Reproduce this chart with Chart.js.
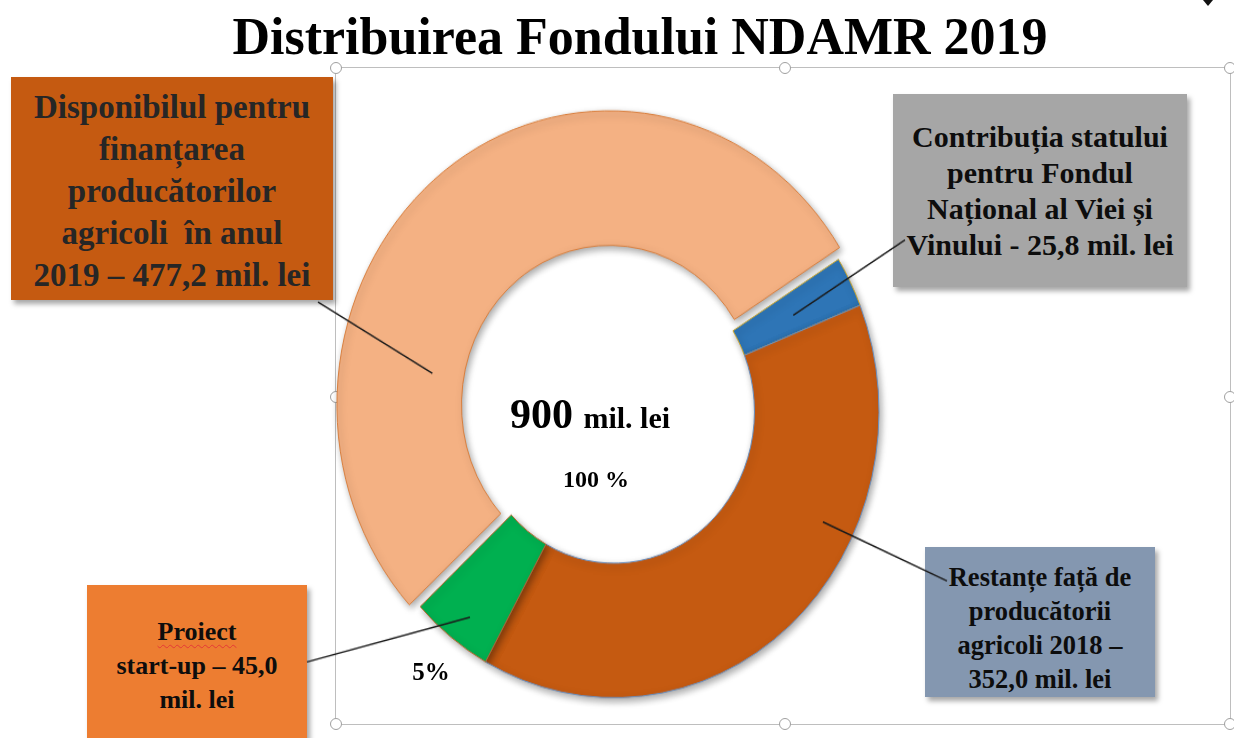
<!DOCTYPE html>
<html><head><meta charset="utf-8">
<script src="https://cdn.jsdelivr.net/npm/chart.js@4.4.1/dist/chart.umd.min.js"></script>
<style>
html,body{margin:0;padding:0;background:#fff;}
body{width:1234px;height:738px;position:relative;overflow:hidden;font-family:"Liberation Serif","Times New Roman",serif;font-weight:bold;}
.box{position:absolute;box-sizing:border-box;text-align:center;white-space:pre;box-shadow:3px 4px 5px rgba(0,0,0,0.35);z-index:1;}
#title{position:absolute;left:23px;top:11px;width:1234px;text-align:center;font-size:52px;line-height:52px;color:#000;white-space:nowrap;z-index:3;}
#frame{position:absolute;left:335px;top:67px;width:896px;height:658px;border:1.5px solid #BEBEBE;box-sizing:border-box;z-index:1;}
.handle{position:absolute;width:10px;height:10px;margin:-6.5px 0 0 -6.5px;border-radius:50%;background:#fff;border:1.5px solid #A0A0A0;z-index:1;}
#chartWrap{position:absolute;left:0;top:0;width:1234px;height:738px;transform-origin:614px 411.5px;transform:scaleY(1.08);pointer-events:none;z-index:2;}
.ctext{position:absolute;text-align:center;white-space:nowrap;color:#000;z-index:3;}
.spell{text-decoration:underline wavy #E53935;text-decoration-thickness:1px;text-underline-offset:4px;}
#mark{position:absolute;left:1203px;top:0;width:0;height:0;border-left:5px solid transparent;border-right:5px solid transparent;border-top:6px solid #111;z-index:3;}
</style></head><body>
<div id="title">Distribuirea Fondului NDAMR 2019</div>
<div id="mark"></div>
<div id="frame"></div>
<div id="boxes"></div>
<div id="chartWrap"><canvas id="c" width="1234" height="738" style="width:1234px;height:738px"></canvas></div>
<div class="ctext" id="total" style="left:390px;top:393px;width:400px;font-size:42px;line-height:42px;"></div>
<div class="ctext" id="pct" style="left:396px;top:467px;width:400px;font-size:24px;line-height:24px;">100 %</div>
<div class="ctext" id="green" style="left:331px;top:659px;width:200px;font-size:25px;line-height:25px;"></div>
<script>
// ---- data ----
const categories = [
  'Disponibilul pentru finanțarea producătorilor agricoli în anul 2019',
  'Contribuția statului pentru Fondul Național al Viei și Vinului',
  'Restanțe față de producătorii agricoli 2018',
  'Proiect start-up'
];
const values = [477.2, 25.8, 352.0, 45.0];
const unit = 'mil. lei';
const boxLines = [
  ['Disponibilul pentru', 'finanțarea', 'producătorilor', 'agricoli  în anul', '2019 – 477,2 mil. lei'],
  ['Contribuția statului', 'pentru Fondul', 'Național al Viei și', 'Vinului - 25,8 mil. lei'],
  ['Restanțe față de', 'producătorii', 'agricoli 2018 –', '352,0 mil. lei'],
  ['Proiect', 'start-up – 45,0', 'mil. lei']
];

// ---- styles / layout ----
const sliceColors = ['#F4B183', '#2E75B6', '#C55A11', '#00B050'];
const sliceBorders = ['#D97F3E', '#C9A52E', '#6A8FBF', '#B5662A'];
const boxStyles = [
  {left:11, top:77, width:322, height:223, bg:'#C55A11', color:'#262626', font:33, lh:42, pad:9},
  {left:893, top:94, width:294, height:193, bg:'#A6A6A6', color:'#0D0D0D', font:30, lh:36, pad:25},
  {left:925, top:547, width:230, height:150, bg:'#8497B0', color:'#0D0D0D', font:26.5, lh:34, pad:13},
  {left:87, top:585, width:220, height:175, bg:'#ED7D31', color:'#0D0D0D', font:26, lh:34, pad:30}
];
const STRETCH = 1.08, CY = 411.5;
const anchors = [[0.266, 0.27], [0.55, 0.48], [0.34, 0.74], [0.45, 0.79]];
const targets = [[318, 302], [905, 240], [947, 581], [307, 662]];

// boxes
const boxesEl = document.getElementById('boxes');
boxLines.forEach((lines, i) => {
  const s = boxStyles[i];
  const d = document.createElement('div');
  d.className = 'box';
  Object.assign(d.style, {left:s.left+'px', top:s.top+'px', width:s.width+'px', height:s.height+'px',
    background:s.bg, color:s.color, fontSize:s.font+'px', lineHeight:s.lh+'px', paddingTop:s.pad+'px'});
  d.innerHTML = lines.map((l, j) => (i === 3 && j === 0) ? '<span class="spell">' + l + '</span>' : l).join('\n');
  boxesEl.appendChild(d);
});

// frame handles
const frameHandles = [[336,68],[785,68],[1230,68],[336,397],[1230,397],[336,724],[785,724],[1230,724]];
frameHandles.forEach(([x, y]) => {
  const h = document.createElement('div');
  h.className = 'handle';
  h.style.left = x + 'px'; h.style.top = y + 'px';
  document.body.appendChild(h);
});

// center texts
const total = values.reduce((a, b) => a + b, 0);
document.getElementById('total').innerHTML = Math.round(total) + ' <span style="font-size:30px">' + unit + '</span>';
document.getElementById('green').textContent = Math.round(values[3] / total * 100) + '%';

const toCanvasY = y => CY + (y - CY) / STRETCH;

const shadowPlugin = {
  id: 'sliceShadow',
  beforeDatasetsDraw(chart) {
    const c = chart.ctx; c.save();
    c.shadowColor = 'rgba(0,0,0,0.35)'; c.shadowBlur = 7; c.shadowOffsetX = 2; c.shadowOffsetY = 3;
  },
  afterDatasetsDraw(chart) { chart.ctx.restore(); }
};

const leaderPlugin = {
  id: 'leaders',
  afterDatasetsDraw(chart) {
    const ctx = chart.ctx;
    const arcs = chart.getDatasetMeta(0).data;
    ctx.save();
    ctx.strokeStyle = '#1b1b1b'; ctx.lineWidth = 1.4;
    arcs.forEach((arc, i) => {
      const p = arc.getProps(['x', 'y', 'startAngle', 'endAngle', 'innerRadius', 'outerRadius']);
      const circ = p.endAngle - p.startAngle;
      const off = (arc.options.offset || 0) / 4;
      const fix = 1 - Math.sin(Math.min(Math.PI, circ || 0));
      const t = off * (1 + fix);
      const mid = (p.startAngle + p.endAngle) / 2;
      const cx = p.x + Math.cos(mid) * t, cy = p.y + Math.sin(mid) * t;
      const a = p.startAngle + circ * anchors[i][0];
      const r = p.innerRadius + (p.outerRadius - p.innerRadius) * anchors[i][1];
      ctx.beginPath();
      ctx.moveTo(cx + Math.cos(a) * r, cy + Math.sin(a) * r);
      ctx.lineTo(targets[i][0], toCanvasY(targets[i][1]));
      ctx.stroke();
    });
    ctx.restore();
  }
};

new Chart(document.getElementById('c'), {
  type: 'doughnut',
  data: {
    labels: categories,
    datasets: [{
      data: values,
      backgroundColor: sliceColors,
      borderColor: sliceBorders,
      borderWidth: 1,
      offset: [30, 0, 0, 0],
      hoverOffset: 0,
      clip: false
    }]
  },
  options: {
    responsive: false,
    animation: false,
    events: [],
    rotation: 227,
    radius: 265,
    cutout: '53%',
    layout: { padding: { left: 0, right: 6, top: 85, bottom: 0 } },
    plugins: { legend: { display: false }, tooltip: { enabled: false } }
  },
  plugins: [shadowPlugin, leaderPlugin]
});
</script>
</body></html>
